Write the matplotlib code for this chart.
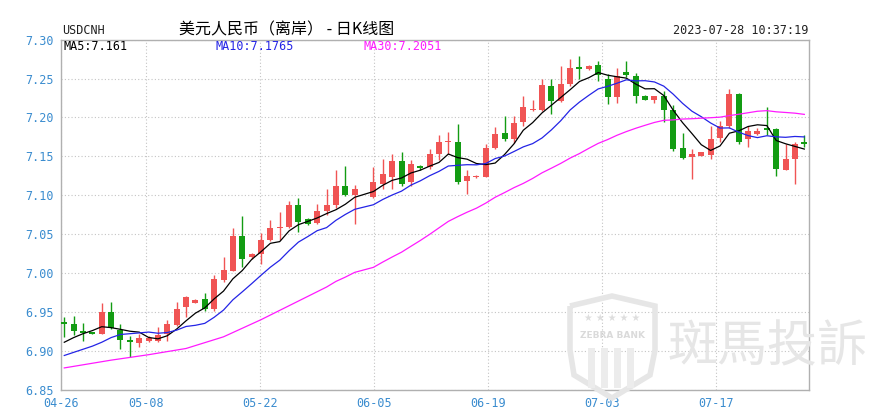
import numpy as np
import matplotlib
matplotlib.use("Agg")
import matplotlib.pyplot as plt
from matplotlib.path import Path
from matplotlib.patches import PathPatch, Rectangle

# 日K线数据，slots 是每根K线所在的格位（第32格空着）
slots = list(range(0, 32)) + list(range(33, 80))
opens = [6.937, 6.935, 6.926, 6.9225, 6.921, 6.950, 6.927, 6.914, 6.910, 6.913,
         6.912, 6.922, 6.933, 6.956, 6.962, 6.967, 6.954, 6.991, 7.003, 7.047,
         7.020, 7.025, 7.042, 7.058, 7.059, 7.087, 7.070, 7.064, 7.080, 7.087,
         7.112, 7.100, 7.098, 7.115, 7.123, 7.144, 7.117, 7.137, 7.136, 7.153,
         7.168, 7.169, 7.118, 7.123, 7.124, 7.161, 7.180, 7.172, 7.194, 7.209,
         7.210, 7.241, 7.221, 7.243, 7.2637, 7.262, 7.268, 7.249, 7.226, 7.258,
         7.253, 7.228, 7.223, 7.228, 7.209, 7.161, 7.149, 7.151, 7.152, 7.174,
         7.189, 7.230, 7.172, 7.179, 7.186, 7.185, 7.133, 7.147, 7.168]
highs = [6.944, 6.945, 6.936, 6.923, 6.962, 6.963, 6.935, 6.919, 6.922, 6.919,
         6.931, 6.940, 6.963, 6.970, 6.966, 6.974, 6.997, 7.021, 7.058, 7.073,
         7.026, 7.051, 7.068, 7.078, 7.093, 7.097, 7.071, 7.089, 7.108, 7.132,
         7.138, 7.113, 7.136, 7.147, 7.153, 7.155, 7.145, 7.139, 7.160, 7.177,
         7.181, 7.192, 7.132, 7.126, 7.166, 7.188, 7.202, 7.202, 7.227, 7.223,
         7.249, 7.249, 7.266, 7.275, 7.279, 7.267, 7.273, 7.256, 7.264, 7.273,
         7.257, 7.229, 7.228, 7.234, 7.216, 7.180, 7.160, 7.156, 7.189, 7.196,
         7.236, 7.232, 7.189, 7.186, 7.213, 7.187, 7.166, 7.168, 7.177]
lows = [6.918, 6.920, 6.912, 6.921, 6.921, 6.928, 6.902, 6.892, 6.905, 6.911,
        6.911, 6.913, 6.932, 6.944, 6.961, 6.951, 6.951, 6.988, 7.002, 7.008,
        7.018, 7.011, 7.041, 7.042, 7.058, 7.053, 7.062, 7.063, 7.074, 7.083,
        7.099, 7.063, 7.097, 7.108, 7.108, 7.112, 7.112, 7.133, 7.134, 7.145,
        7.153, 7.115, 7.101, 7.122, 7.123, 7.160, 7.170, 7.167, 7.189, 7.208,
        7.208, 7.204, 7.220, 7.240, 7.249, 7.261, 7.247, 7.217, 7.219, 7.252,
        7.219, 7.222, 7.218, 7.194, 7.157, 7.146, 7.121, 7.150, 7.147, 7.168,
        7.187, 7.166, 7.162, 7.177, 7.177, 7.125, 7.132, 7.115, 7.162]
closes = [6.935, 6.925, 6.923, 6.922, 6.950, 6.929, 6.914, 6.911, 6.916, 6.916,
          6.920, 6.934, 6.954, 6.969, 6.965, 6.954, 6.992, 7.004, 7.048, 7.018,
          7.025, 7.042, 7.058, 7.059, 7.087, 7.065, 7.063, 7.080, 7.087, 7.112,
          7.100, 7.108, 7.117, 7.127, 7.144, 7.115, 7.140, 7.135, 7.153, 7.168,
          7.169, 7.117, 7.125, 7.125, 7.161, 7.179, 7.172, 7.193, 7.213, 7.210,
          7.2415, 7.221, 7.243, 7.263, 7.2628, 7.266, 7.254, 7.226, 7.253, 7.254,
          7.228, 7.223, 7.227, 7.209, 7.160, 7.148, 7.153, 7.155, 7.172, 7.189,
          7.230, 7.168, 7.183, 7.183, 7.184, 7.134, 7.147, 7.166, 7.166]

# 均线开头一段（更早的收盘价不在图内，从图上读出）
ma5_head = [6.911, 6.917, 6.922, 6.926]
ma10_head = [6.894, 6.898, 6.902, 6.906, 6.911, 6.917, 6.921, 6.922, 6.923]
ma30_head_idx = [0, 5, 9, 13, 17, 21, 25, 28]
ma30_head = [6.878, 6.888, 6.895, 6.903, 6.918, 6.940, 6.964, 6.982]

date_labels = ["04-26", "05-08", "05-22", "06-05", "06-19", "07-03", "07-17"]
price_ticks = [6.85, 6.90, 6.95, 7.00, 7.05, 7.10, 7.15, 7.20, 7.25, 7.30]
ma_labels = ["MA5:7.161", "MA10:7.1765", "MA30:7.2051"]

RED = "#f05454"
GREEN = "#139c13"
LABEL_BLUE = "#3a8ccf"


def moving_avg(vals, n, head):
    out = list(head)
    for k in range(len(head), len(vals)):
        out.append(np.mean(vals[k - n + 1:k + 1]))
    return out


plt.rcParams['font.family'] = ['DejaVu Sans Mono', 'Noto Sans CJK SC']

W, H = 891, 412
fig = plt.figure(figsize=(W / 100, H / 100), dpi=100)
ax = fig.add_axes([61 / W, 1 - 389.7 / H, (809 - 61) / W, (389.7 - 39.7) / H])

x = np.array(slots)
o = np.array(opens)
c = np.array(closes)
hi = np.array(highs)
lo = np.array(lows)
up = c >= o
colors = np.where(up, RED, GREEN)

# 影线
ax.vlines(x, lo, hi, colors=colors, linewidth=1, zorder=2)
# 实体
body_low = np.minimum(o, c)
body_h = np.maximum(np.abs(c - o), 0.0016)
ax.bar(x, body_h, bottom=body_low, width=0.64, color=colors, linewidth=0, zorder=3)

# 均线
ma5 = moving_avg(closes, 5, ma5_head)
ma10 = moving_avg(closes, 10, ma10_head)
ma30_full = moving_avg(closes, 30, [np.nan] * 29)
ma30_x = [slots[i] for i in ma30_head_idx] + slots[29:]
ma30_y = ma30_head + ma30_full[29:]
ax.plot(x, ma5, color="black", linewidth=0.9, zorder=4)
ax.plot(x, ma10, color="#2424e6", linewidth=0.9, zorder=4)
ax.plot(ma30_x, ma30_y, color="#ff1aff", linewidth=0.9, zorder=4)

ax.set_xlim(-0.35, 79.5)
ax.set_ylim(6.85, 7.30)

tick_pos = [-0.35] + [8.68 + 12.17 * i for i in range(6)]
ax.set_xticks(tick_pos)
ax.set_xticklabels(date_labels)
ax.set_yticks(price_ticks)
ax.set_yticklabels([f"{v:.2f}" for v in price_ticks])
ax.tick_params(axis="both", length=0, labelsize=8.5, labelcolor=LABEL_BLUE)
ax.tick_params(axis="y", pad=5)
ax.tick_params(axis="x", pad=5)

ax.grid(True, color="#c4c4c4", linestyle=(0, (1, 2)), linewidth=0.8)
ax.set_axisbelow(True)
for sp in ax.spines.values():
    sp.set_color("#b0b0b0")
    sp.set_linewidth(1)

# 顶部文字
fig.text(62 / W, 1 - 31 / H, "USDCNH", fontsize=8.5, va="center", ha="left", color="#222222")
fig.text(287 / W, 1 - 30 / H, "美元人民币（离岸） - 日K线图", fontsize=11.5,
         va="center", ha="center", family=['Noto Sans CJK SC', 'DejaVu Sans'])
fig.text(808 / W, 1 - 31 / H, "2023-07-28 10:37:19", fontsize=8.5, va="center",
         ha="right", color="#222222")

ma_colors = ["black", "#2424e6", "#ff1aff"]
ma_x = [63, 216, 364]
for lab, col, px in zip(ma_labels, ma_colors, ma_x):
    fig.text(px / W, 1 - 47 / H, lab, fontsize=8.5, va="center", ha="left", color=col)

# 水印
wm = "#e6e6e6"
fig.text(768 / W, 1 - 348 / H, "斑馬投訴", fontsize=36, va="center", ha="center",
         color=wm, family=['Noto Sans CJK TC', 'DejaVu Sans'], zorder=0.5)
shield_pts = [(570, 306), (612, 296), (655, 306), (655, 350), (650, 375), (612, 398),
              (574, 375), (570, 350), (570, 306)]
verts = [(px / W, 1 - py / H) for px, py in shield_pts]
fig.patches.append(PathPatch(Path(verts), facecolor="none", edgecolor=wm,
                             linewidth=4, transform=fig.transFigure, figure=fig))
for sx in [588, 601, 614, 627]:
    fig.patches.append(Rectangle((sx / W, 1 - 388 / H), 7 / W, 40 / H, facecolor="#ececec",
                                 edgecolor="none", transform=fig.transFigure, figure=fig))
fig.text(612 / W, 1 - 336 / H, "ZEBRA BANK", fontsize=6.5, weight="bold", va="center",
         ha="center", color="#dadada", family="DejaVu Sans")
fig.text(612 / W, 1 - 318 / H, "★ ★ ★ ★ ★", fontsize=7, va="center", ha="center",
         color="#dedede", family="DejaVu Sans")

fig.savefig("out.png", dpi=100)
